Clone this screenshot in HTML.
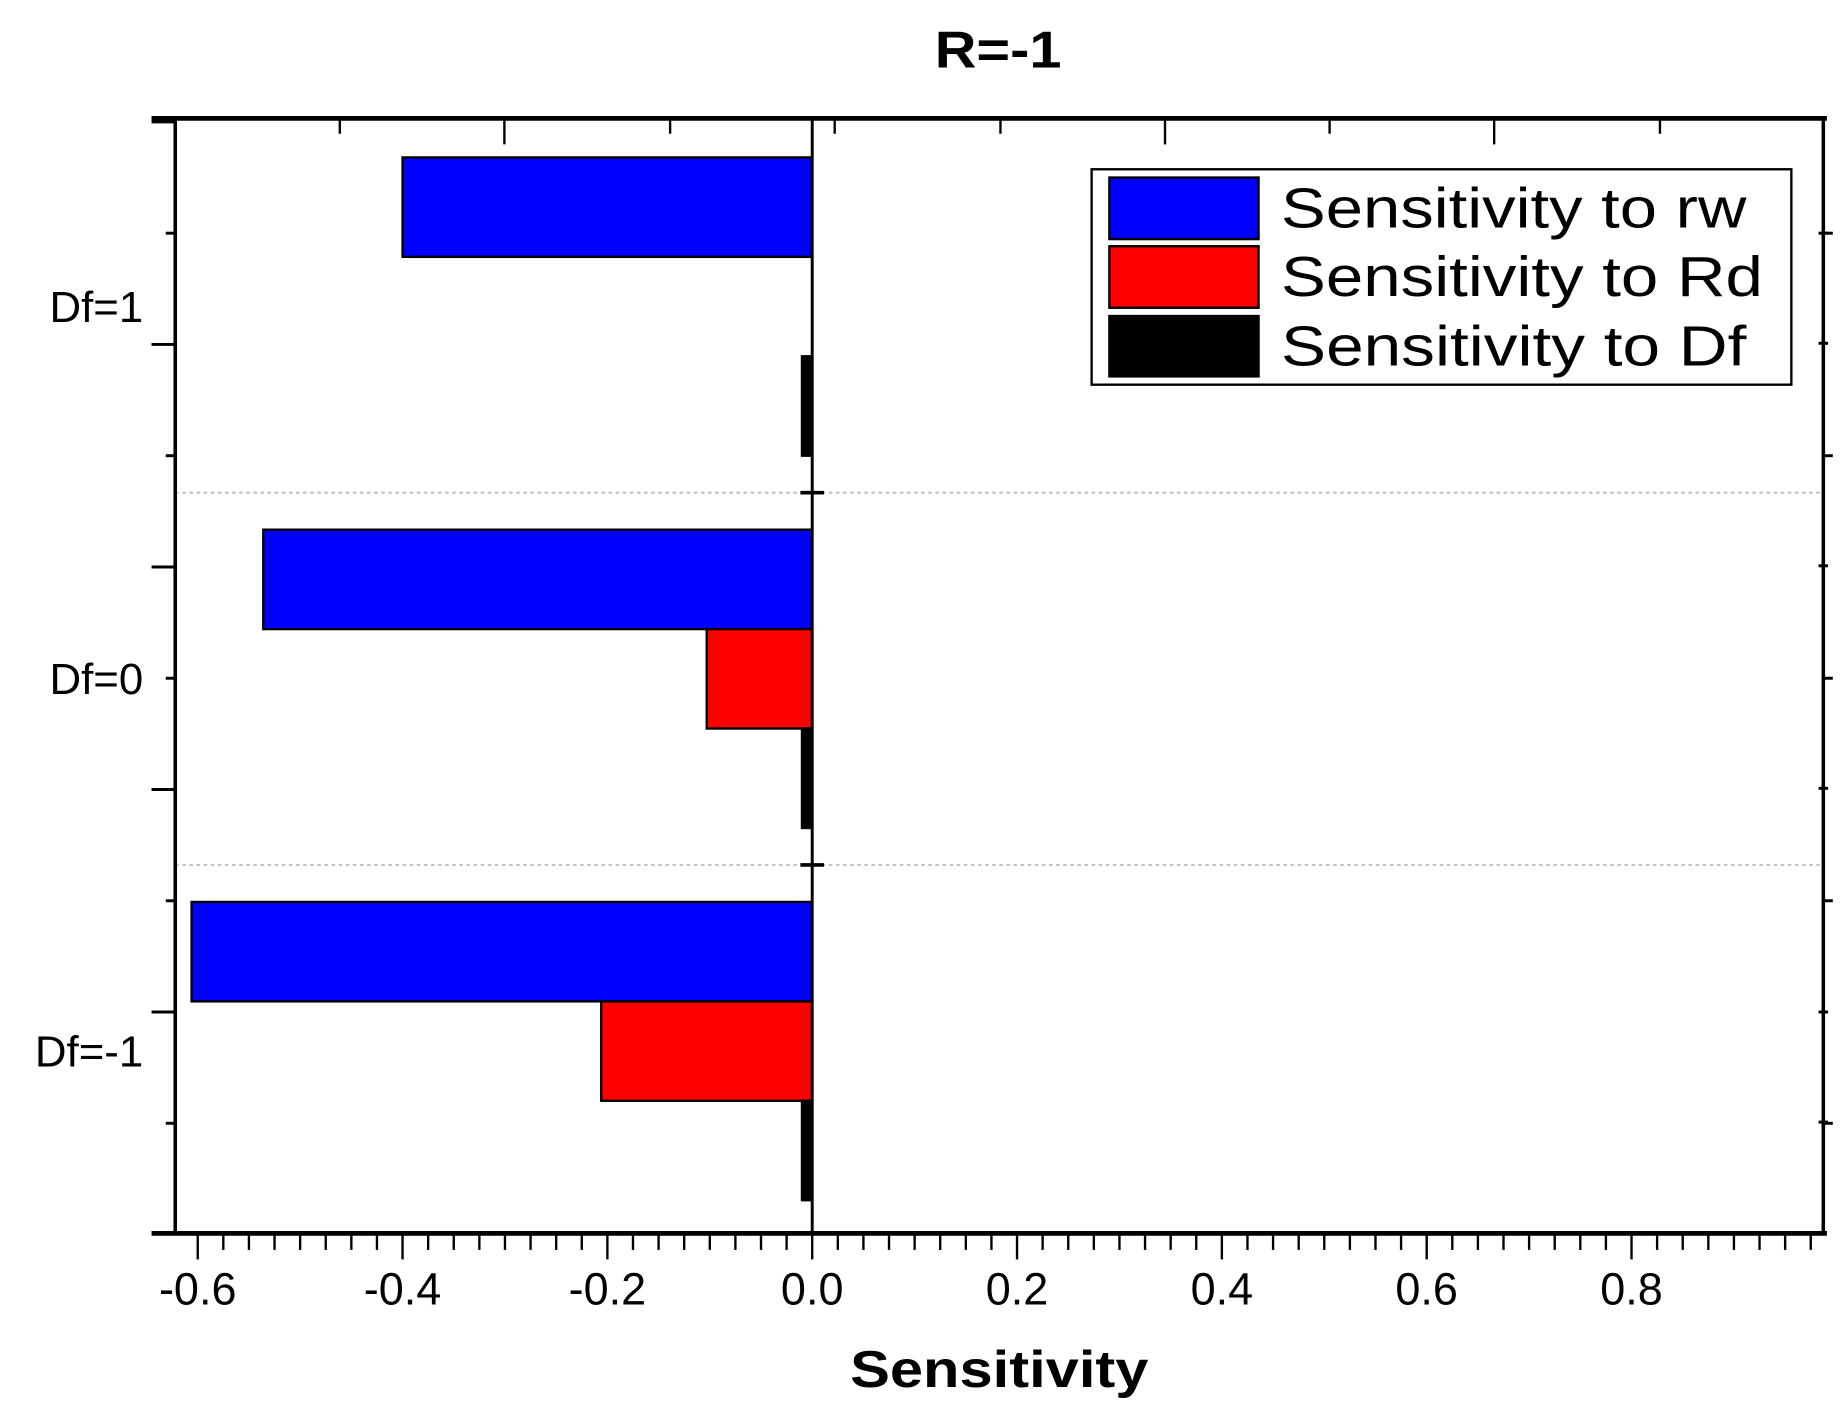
<!DOCTYPE html>
<html><head><meta charset="utf-8"><style>
html,body{margin:0;padding:0;background:#fff;}
svg{display:block;}
text{font-family:"Liberation Sans",Arial,sans-serif;}
</style></head><body>
<svg id="chart" width="1847" height="1405" viewBox="0 0 1560 1187" preserveAspectRatio="none" xmlns="http://www.w3.org/2000/svg">
<text x="843" y="57" font-size="44" font-weight="bold" text-anchor="middle" textLength="107" lengthAdjust="spacingAndGlyphs">R=-1</text>
<g id="plot"></g>
<text x="844" y="1172" font-size="44" font-weight="bold" text-anchor="middle" textLength="252" lengthAdjust="spacingAndGlyphs">Sensitivity</text>
<g>
<rect x="922" y="143" width="591" height="182" fill="#fff" stroke="#000" stroke-width="2"/>
<rect x="937" y="150" width="126" height="52" fill="#0000ff" stroke="#000" stroke-width="2"/>
<text x="1082" y="192" font-size="48" textLength="393" lengthAdjust="spacingAndGlyphs">Sensitivity to rw</text>
<rect x="937" y="208" width="126" height="52" fill="#ff0000" stroke="#000" stroke-width="2"/>
<text x="1082" y="250" font-size="48" textLength="407" lengthAdjust="spacingAndGlyphs">Sensitivity to Rd</text>
<rect x="937" y="267" width="126" height="51" fill="#000" stroke="#000" stroke-width="2"/>
<text x="1082" y="309" font-size="48" textLength="393" lengthAdjust="spacingAndGlyphs">Sensitivity to Df</text>
</g>
</svg>
<script>
const categories = ["Df=1","Df=0","Df=-1"];
const rwValues = [-0.40, -0.536, -0.606];
const rdValues = [0.0, -0.103, -0.206];
const dfValues = [-0.01, -0.01, -0.01];
const xTicks = [-0.6,-0.4,-0.2,0.0,0.2,0.4,0.6,0.8];
const xTickLabels = ["-0.6","-0.4","-0.2","0.0","0.2","0.4","0.6","0.8"];

const NS="http://www.w3.org/2000/svg";
const plot=document.getElementById('plot');
const L=148,R=1540,T=100,B=1042;
const x0=686, unit=865;
function xs(v){return x0+v*unit;}
const groupTop=133, groupStep=314.5, barH=84;
function gy(i){return groupTop+i*groupStep;}
function mk(tag,attrs){const e=document.createElementNS(NS,tag);for(const k in attrs)e.setAttribute(k,attrs[k]);plot.appendChild(e);return e;}

for(let i=1;i<categories.length;i++){
  const y=(gy(i-1)+barH*3+gy(i))/2;
  const l=mk('line',{x1:L,x2:R,y1:y,y2:y,stroke:'#bbb','stroke-width':1.5,'stroke-dasharray':'3,3'});
  
  
  const t=mk('line',{x1:x0-10,x2:x0+10,y1:y,y2:y,stroke:'#000','stroke-width':3});
  
  
}

const series=[{vals:rwValues,color:'#0000ff',name:'rw'},{vals:rdValues,color:'#ff0000',name:'rd'},{vals:dfValues,color:'#000000',name:'df'}];
categories.forEach((c,i)=>{
  series.forEach((s,j)=>{
    const v=s.vals[i];
    const xa=Math.min(xs(v),x0), w=Math.abs(xs(v)-x0);
    if(w<0.5)return;
    const r=mk('rect',{x:xa,y:gy(i)+j*barH,width:w,height:barH,fill:s.color,stroke:'#000','stroke-width':2});
    
    
  });
  const t=mk('text',{x:121,y:gy(i)+barH*1.5+13,'font-size':37,'text-anchor':'end'});
  t.textContent=c;
  
  
});

const f=mk('rect',{x:L,y:T,width:R-L,height:B-T,fill:'none',stroke:'#000','stroke-width':3});


const ax=mk('line',{x1:128,x2:1543,y1:B,y2:B,stroke:'#000','stroke-width':4});


const ax2=mk('line',{x1:128,x2:1543,y1:T,y2:T,stroke:'#000','stroke-width':4});


const zl=mk('line',{x1:x0,x2:x0,y1:T,y2:B,stroke:'#000','stroke-width':2.5});



for(let k=-6;k<=9;k++){
  for(let m=0;m<4;m++){
    const v=(k*4+m)*0.025;
    if(v>0.987||v<-0.61)continue;
    const major=m===0&&(k%2===0);
    const x=xs(v);
    const tk=mk('line',{x1:x,x2:x,y1:B,y2:B+(major?22:14),stroke:'#000','stroke-width':2});
    
    
  }
}
xTicks.forEach((v,i)=>{
  const t=mk('text',{x:xs(v),y:1102,'font-size':38,'text-anchor':'middle'});
  t.textContent=xTickLabels[i];
  
  
});
for(let n=0;n<=10;n++){
  const y=103+n*94;
  if(y>B)break;
  const major=(n%2===0);
  const len=major?20:8;
  const a=mk('line',{x1:L-len,x2:L,y1:y,y2:y,stroke:'#000','stroke-width':2.5});
  
  
  const b=mk('line',{x1:R,x2:R+(major?0:8),y1:y,y2:y,stroke:'#000','stroke-width':2.5});
  
  
}
[197,290,478,666,855,948].forEach(y=>{
  const b=mk('line',{x1:R-4,x2:R+4,y1:y,y2:y,stroke:'#000','stroke-width':2.5});
  
  
});
[287,426,566,705,845,984,1123,1262,1402].forEach((x,i)=>{
  const long=(i===1||i===5||i===7);
  const t=mk('line',{x1:x,x2:x,y1:T,y2:T+(long?22:13),stroke:'#000','stroke-width':2});
  
  
});
</script>
</body></html>
